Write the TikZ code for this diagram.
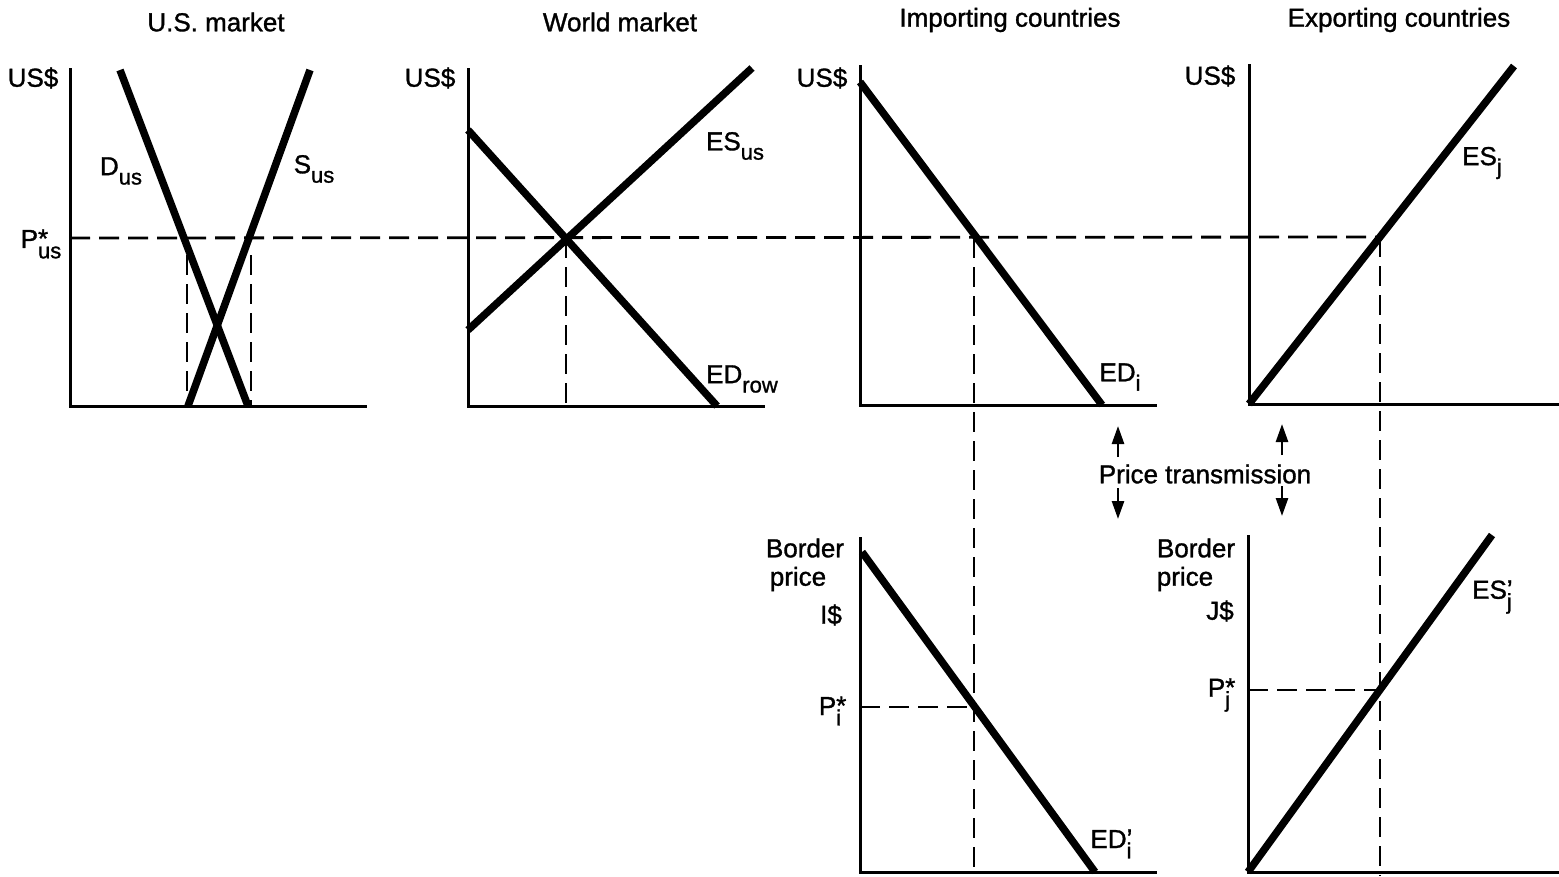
\documentclass[tikz,border=0pt]{standalone}
\usepackage{fontspec}
\setmainfont{Liberation Sans}[FakeBold=1.2]
\usetikzlibrary{arrows.meta}
\newcommand\subl[2]{#1\raisebox{-0.36em}{\fontsize{22}{22}\selectfont #2}}
\newcommand\starl[3]{#1\rlap{\raisebox{0.02em}{#2}}\raisebox{-0.4em}{\fontsize{22}{22}\selectfont #3}}
\begin{document}
\begin{tikzpicture}[x=1pt,y=-1pt,
  every node/.style={font=\fontsize{26}{29}\selectfont, inner sep=0pt},
  axis/.style={line width=3pt},
  curve/.style={line width=7.5pt},
  guide/.style={line width=2.8pt, dash pattern=on 20pt off 9pt},
  tarrow/.style={line width=2.6pt, -{Triangle[length=18pt,width=12pt]}}]
\useasboundingbox (0,0) rectangle (1559,876);
% ---------- coordinates ----------
% panel 1
\coordinate (O1) at (70,406); \coordinate (T1) at (70,68); \coordinate (X1) at (367,406);
\coordinate (D1a) at (120,70); \coordinate (D1b) at (248,406);
\coordinate (S1a) at (310,70); \coordinate (S1b) at (188,406);
\coordinate (V1a) at (187,255); \coordinate (V1b) at (187,406);
\coordinate (V2a) at (251,255); \coordinate (V2b) at (251,406);
% panel 2
\coordinate (O2) at (468,406); \coordinate (T2) at (468,68); \coordinate (X2) at (765,406);
\coordinate (ES2a) at (468,330); \coordinate (ES2b) at (752,68);
\coordinate (ED2a) at (468,130); \coordinate (ED2b) at (717,406);
\coordinate (E2) at (566,238);
% panel 3
\coordinate (O3) at (860,405); \coordinate (T3) at (860,65); \coordinate (X3) at (1157,405);
\coordinate (ED3a) at (860,82); \coordinate (ED3b) at (1102,405);
\coordinate (E3) at (974,238); \coordinate (E3b) at (974,872);
% panel 4
\coordinate (O4) at (1249,404); \coordinate (T4) at (1249,64); \coordinate (X4) at (1559,404);
\coordinate (ES4b) at (1514,66);
\coordinate (E4) at (1380,237); \coordinate (E4b) at (1380,876);
% panel 5 (importing, border price)
\coordinate (O5) at (860,872); \coordinate (T5) at (860,537); \coordinate (X5) at (1157,872);
\coordinate (ED5a) at (862,552); \coordinate (ED5b) at (1095,872);
\coordinate (P5) at (860,707); \coordinate (E5) at (974,707);
% panel 6 (exporting, border price)
\coordinate (O6) at (1248,872); \coordinate (T6) at (1248,535); \coordinate (X6) at (1559,872);
\coordinate (ES6b) at (1492,535);
\coordinate (P6) at (1248,690); \coordinate (E6) at (1380,690);
% price line
\coordinate (PL) at (70,238);
% arrows
\coordinate (A1t) at (1118,457); \coordinate (A1h) at (1118,426);
\coordinate (A2t) at (1118,488); \coordinate (A2h) at (1118,519);
\coordinate (A3t) at (1282,455); \coordinate (A3h) at (1282,424);
\coordinate (A4t) at (1282,486); \coordinate (A4h) at (1282,516);

% ---------- dashed guides ----------
\draw[guide] (PL) -- (E4);
\draw[guide] (V1a) -- (V1b);
\draw[guide] (V2a) -- (V2b);
\draw[guide] (E2) -- (O2 -| E2);
\draw[guide] (E3) -- (E3b);
\draw[guide] (E4) -- (E4b);
\draw[guide] (P5) -- (E5);
\draw[guide] (P6) -- (E6);

% ---------- axes ----------
\draw[axis] (T1) -- (O1) -- (X1);
\draw[axis] (T2) -- (O2) -- (X2);
\draw[axis] (T3) -- (O3) -- (X3);
\draw[axis] (T4) -- (O4) -- (X4);
\draw[axis] (T5) -- (O5) -- (X5);
\draw[axis] (T6) -- (O6) -- (X6);

% ---------- curves ----------
\draw[curve] (D1a) -- (D1b);
\draw[curve] (S1a) -- (S1b);
\draw[curve] (ES2a) -- (ES2b);
\draw[curve] (ED2a) -- (ED2b);
\draw[curve] (ED3a) -- (ED3b);
\draw[curve] (O4) -- (ES4b);
\draw[curve] (ED5a) -- (ED5b);
\draw[curve] (O6) -- (ES6b);

% ---------- arrows ----------
\draw[tarrow] (A1t) -- (A1h);
\draw[tarrow] (A2t) -- (A2h);
\draw[tarrow] (A3t) -- (A3h);
\draw[tarrow] (A4t) -- (A4h);

% ---------- texts ----------
\node (t1) at (216,22) {U.S. market};
\node (t2) at (620,22) {World market};
\node (t3) at (1010,20) {Importing countries};
\node (t4) at (1399,20) {Exporting countries};

\node (y1) at (33,78) {US\$};
\node (y2) at (430,78) {US\$};
\node (y3) at (822,78) {US\$};
\node (y4) at (1210,76) {US\$};

\node (ld) at (121,171) {\subl{D}{us}};
\node (ls) at (314,169) {\subl{S}{us}};
\node (lp) at (41,244) {\starl{P}{*}{us}};
\node (les) at (735,146) {\subl{ES}{us}};
\node (led) at (742,379) {\subl{ED}{row}};
\node (ledi) at (1120,377) {\subl{ED}{i}};
\node (lesj) at (1482,163) {\subl{ES}{j}};

\node (b1) at (805,548) {Border};
\node (b2) at (798,579) {price};
\node (ci) at (831,615) {I\$};
\node (lpi) at (830,711) {\starl{P}{*}{i}};
\node (ledp) at (1111,844) {\starl{ED}{’}{i}};

\node (b3) at (1196,548) {Border};
\node (b4) at (1185,579) {price};
\node (cj) at (1220,611) {J\$};
\node (lpj) at (1219,695) {\starl{P}{*}{j}};
\node (lesp) at (1492,597) {\starl{ES}{’}{j}};

\node (pt) at (1205,474) {Price transmission};
\end{tikzpicture}
\end{document}
